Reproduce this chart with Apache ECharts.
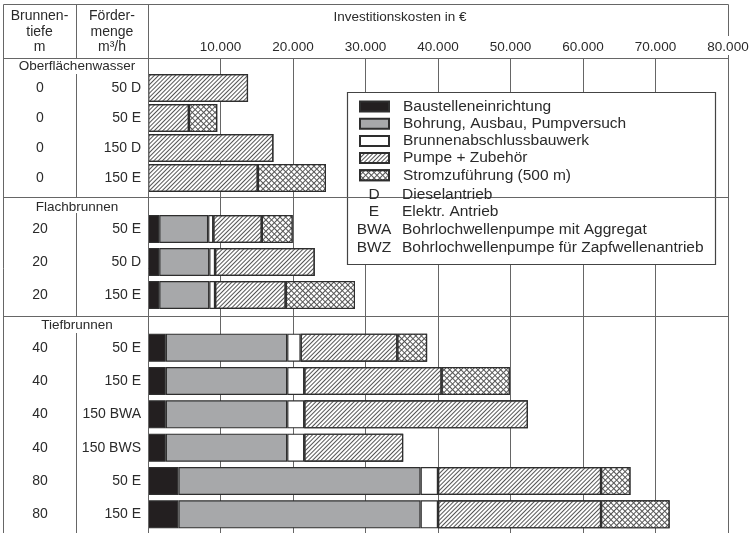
<!DOCTYPE html>
<html>
<head>
<meta charset="utf-8">
<script src="https://cdn.jsdelivr.net/npm/echarts@6/dist/echarts.min.js"></script>
<style>
  html, body { margin: 0; padding: 0; background: #fff; }
  #chart { width: 755px; height: 533px; }
</style>
</head>
<body>
<div id="chart"></div>
<script>
// rows, top to bottom
const sectionNames = ['Oberflächenwasser', 'Flachbrunnen', 'Tiefbrunnen'];
const sectionSizes = [4, 3, 6];
const depthLabels = ['0', '0', '0', '0', '20', '20', '20', '40', '40', '40', '40', '80', '80'];
const flowLabels = ['50 D', '50 E', '150 D', '150 E', '50 E', '50 D', '150 E', '50 E', '150 E', '150 BWA', '150 BWS', '50 E', '150 E'];

// cost components in EUR
const baustelle = [0, 0, 0, 0, 1550, 1550, 1550, 2450, 2450, 2450, 2450, 4200, 4200];
const bohrung = [0, 0, 0, 0, 6750, 6900, 6900, 16750, 16750, 16750, 16750, 33400, 33400];
const abschluss = [0, 0, 0, 0, 700, 800, 800, 1850, 2350, 2350, 2350, 2400, 2400];
const pumpe = [13800, 5650, 17300, 15150, 6700, 13750, 9750, 13350, 18950, 30850, 13650, 22500, 22500];
const strom = [0, 3900, 0, 9400, 4250, 0, 9550, 4100, 9400, 0, 0, 4050, 9450];

const componentNames = ['Baustelleneinrichtung', 'Bohrung, Ausbau, Pumpversuch', 'Brunnenabschlussbauwerk', 'Pumpe + Zubehör', 'Stromzuführung (500 m)'];
const componentValues = [baustelle, bohrung, abschluss, pumpe, strom];

const abbrevKeys = ['D', 'E', 'BWA', 'BWZ'];
const abbrevTexts = ['Dieselantrieb', 'Elektr. Antrieb', 'Bohrlochwellenpumpe mit Aggregat', 'Bohrlochwellenpumpe für Zapfwellenantrieb'];

const FONT = '"Liberation Sans", Arial, sans-serif';
const LINE = '#666';
const TEXT = '#2a2a2a';

const hatch = { symbol: 'rect', symbolSize: 1, dashArrayX: [1, 0], dashArrayY: [1, 2], rotation: -Math.PI / 4, color: '#555' };
const cross = { symbol: 'rect', symbolSize: 1, dashArrayX: [3, 1], dashArrayY: [3, 1], rotation: Math.PI / 4, color: '#fff' };
const componentStyles = [
  { color: '#231f20' },
  { color: '#a7a8aa' },
  { color: '#ffffff' },
  { color: '#ffffff', decal: hatch },
  { color: '#555555', decal: cross }
];

// section layout (px)
const gridTops = [73, 212.5, 331];
const gridHeights = [120, 99, 200];

const chart = echarts.init(document.getElementById('chart'));

const grids = [{ left: 148, right: 27, top: 58, bottom: 0, outerBoundsMode: 'none', containLabel: false }];
const xAxes = [{
  gridIndex: 0, type: 'value', position: 'top', min: 0, max: 80000, interval: 10000,
  axisLine: { show: false }, axisTick: { show: false },
  axisLabel: {
    margin: 4, color: TEXT, fontFamily: FONT, fontSize: 13.5,
    alignMinLabel: 'center', alignMaxLabel: 'center', hideOverlap: false,
    formatter: (v) => (v ? v / 1000 + '.000' : '')
  },
  splitLine: { show: true, lineStyle: { color: LINE, width: 1 } }
}];
const yAxes = [{ gridIndex: 0, type: 'value', show: false }];
const series = [];

let start = 0;
sectionSizes.forEach((size, s) => {
  const g = s + 1;
  const flows = flowLabels.slice(start, start + size);
  const depths = depthLabels.slice(start, start + size);
  grids.push({ left: 148, right: 27, top: gridTops[s], height: gridHeights[s], outerBoundsMode: 'none', containLabel: false });
  xAxes.push({ gridIndex: g, type: 'value', min: 0, max: 80000, show: false });
  yAxes.push({
    gridIndex: g, type: 'category', position: 'left', inverse: true, data: flows,
    axisLine: { show: false }, axisTick: { show: false },
    axisLabel: { margin: 7, color: TEXT, fontFamily: FONT, fontSize: 14 }
  });
  yAxes.push({
    gridIndex: g, type: 'category', position: 'left', inverse: true, data: depths, offset: 108,
    axisLine: { show: false }, axisTick: { show: false },
    axisLabel: { margin: 0, align: 'center', color: TEXT, fontFamily: FONT, fontSize: 14 }
  });
  componentNames.forEach((name, c) => {
    series.push({
      name: name,
      type: 'bar',
      stack: 'sec' + s,
      xAxisIndex: g,
      yAxisIndex: 2 * s + 1,
      barWidth: 28,
      itemStyle: Object.assign({ borderColor: '#2e2e2e', borderWidth: 1.2 }, componentStyles[c]),
      data: componentValues[c].slice(start, start + size).map((v) => v || null)
    });
  });
  start += size;
});

const line = (x1, y1, x2, y2) => ({
  type: 'line', z: 5,
  shape: { x1: x1, y1: y1, x2: x2, y2: y2 },
  style: { stroke: LINE, lineWidth: 1 }
});
const text = (x, y, str, opts) => ({
  type: 'text', z: 6, x: x, y: y,
  style: Object.assign({ text: str, fill: TEXT, font: '14px ' + FONT, align: 'center', verticalAlign: 'middle' }, opts || {})
});

const graphics = [
  line(3.5, 4.5, 728.5, 4.5),
  line(3.5, 4.5, 3.5, 533),
  line(728.5, 4.5, 728.5, 36),
  line(728.5, 55, 728.5, 533),
  line(148.5, 4.5, 148.5, 533),
  line(3.5, 58.5, 728.5, 58.5),
  line(3.5, 197.5, 728.5, 197.5),
  line(3.5, 316.5, 728.5, 316.5),
  line(76.5, 4.5, 76.5, 58.5),
  line(76.5, 74, 76.5, 197.5),
  line(76.5, 213, 76.5, 316.5),
  line(76.5, 333, 76.5, 533),
  text(39.5, 32, 'Brunnen-\ntiefe\nm', { lineHeight: 15.5 }),
  text(112, 32, 'Förder-\nmenge\nm³/h', { lineHeight: 15.5 }),
  text(400, 17, 'Investitionskosten in €', { font: '13.5px ' + FONT }),
  text(77, 66, sectionNames[0], { font: '13.5px ' + FONT }),
  text(77, 207, sectionNames[1], { font: '13.5px ' + FONT }),
  text(77, 325, sectionNames[2], { font: '13.5px ' + FONT }),
  {
    type: 'rect', z: 3,
    shape: { x: 347.5, y: 92.5, width: 368, height: 172 },
    style: { fill: '#fff', stroke: '#444', lineWidth: 1.2 }
  }
];
abbrevKeys.forEach((k, i) => {
  const y = 194.5 + i * 17.7;
  graphics.push(text(374, y, k, { font: '15.5px ' + FONT }));
  graphics.push(text(402, y, abbrevTexts[i], { font: '15.5px ' + FONT, align: 'left' }));
});

chart.setOption({
  animation: false,
  grid: grids,
  xAxis: xAxes,
  yAxis: yAxes,
  legend: {
    orient: 'vertical',
    left: 359,
    top: 98.5,
    padding: 0,
    itemWidth: 29,
    itemHeight: 10,
    itemGap: 1.2,
    icon: 'rect',
    selectedMode: false,
    z: 6,
    textStyle: { color: TEXT, fontFamily: FONT, fontSize: 15.5, padding: [0, 0, 0, 9] },
    data: componentNames
  },
  graphic: graphics,
  series: series
});
</script>
</body>
</html>
